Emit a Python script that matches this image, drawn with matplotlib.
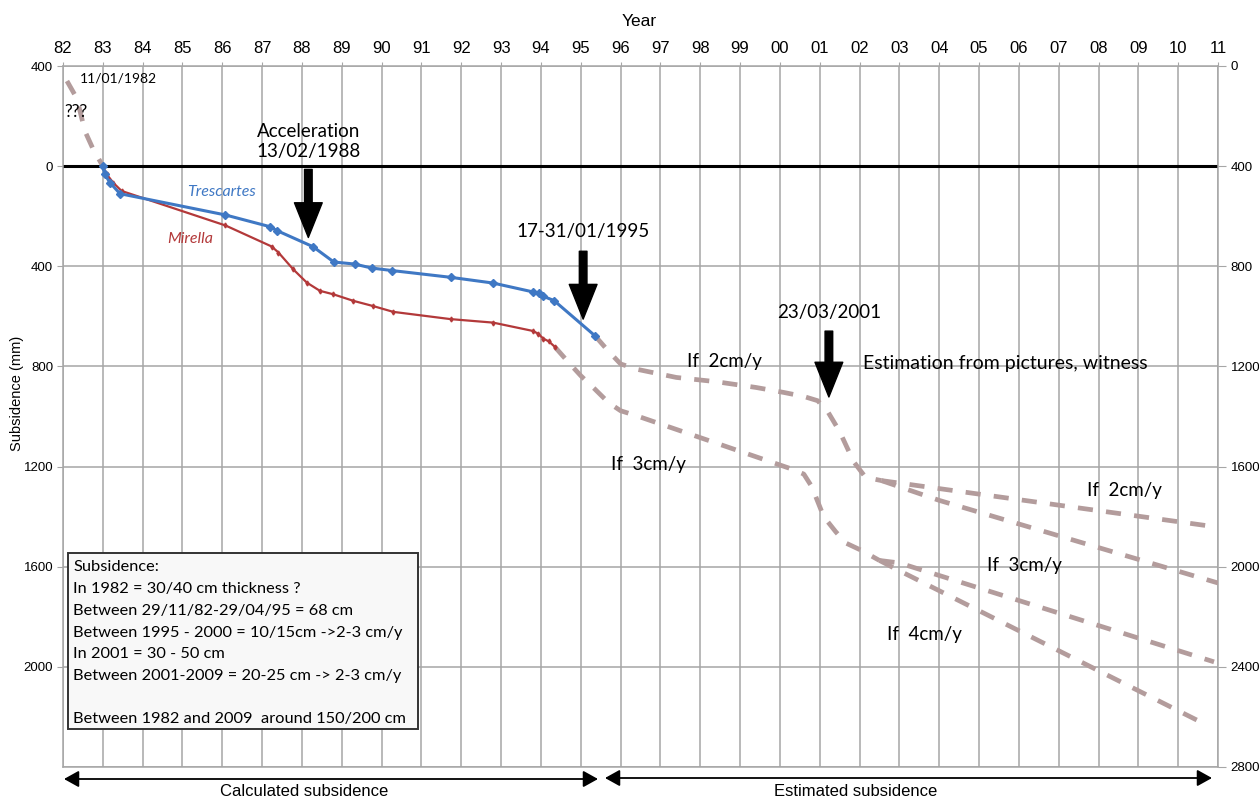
import matplotlib
matplotlib.use("Agg")
import matplotlib.pyplot as plt
from matplotlib.patches import Rectangle

# ---------- data ----------
year_ticks = list(range(82, 112))
year_labels = [f"{y % 100:02d}" for y in year_ticks]

left_ticks = [-400, 0, 400, 800, 1200, 1600, 2000]
right_ticks = [0, 400, 800, 1200, 1600, 2000, 2400, 2800]

tres_year = [83.0, 83.05, 83.18, 83.43, 86.08, 87.2, 87.38, 88.28, 88.8, 89.32,
             89.75, 90.26, 91.73, 92.8, 93.79, 93.96, 94.06, 94.33, 95.36]
tres_mm = [0, 33, 66, 110, 195, 242, 258, 322, 383, 391,
           407, 417, 444, 467, 502, 508, 520, 537, 678]

mir_year = [83.0, 83.1, 83.26, 83.47, 86.08, 87.24, 87.41, 87.78, 88.12, 88.45,
            88.79, 89.29, 89.79, 90.29, 91.73, 92.8, 93.79, 93.93, 94.06, 94.2, 94.35]
mir_mm = [0, 33, 66, 99, 237, 321, 345, 412, 465, 498,
          512, 538, 559, 582, 611, 625, 658, 669, 689, 700, 722]

start_year = [82.1, 82.35, 82.55, 82.75, 83.0]
start_mm = [-340, -270, -140, -70, 0]

upper_year = [95.36, 95.7, 96.0, 96.4, 97.4, 98.4, 99.4, 100.1, 100.6, 100.95,
              101.2, 101.5, 101.85, 102.15, 102.55]
upper_mm = [678, 740, 790, 811, 844, 861, 884, 904, 920, 937,
            980, 1060, 1180, 1243, 1256]

up2_year = [102.55, 110.9]
up2_mm = [1256, 1440]
up3_year = [102.55, 104.0, 111.0]
up3_mm = [1256, 1335, 1665]

lower_year = [94.35, 94.7, 95.0, 95.35, 95.7, 96.0, 96.4, 97.7, 99.0, 100.3,
              100.6, 100.8, 101.1, 101.4, 101.65, 102.05, 102.5]
lower_mm = [722, 785, 837, 890, 945, 977, 997, 1068, 1139, 1210,
            1230, 1280, 1400, 1460, 1505, 1535, 1575]

low3_year = [102.5, 103.0, 110.9]
low3_mm = [1575, 1585, 1980]
low4_year = [102.5, 102.9, 110.7]
low4_mm = [1575, 1608, 2231]

# event arrows: x (year), shaft top (mm), tip (mm), label, label height (mm)
arrow_x = [88.16, 95.06, 101.23]
arrow_top = [13, 340, 659]
arrow_tip = [285, 611, 922]
arrow_text = ["Acceleration\n13/02/1988", "17-31/01/1995", "23/03/2001"]
arrow_text_mm = [-98, 260, 584]

box_lines = ["Subsidence:",
             "In 1982 = 30/40 cm thickness ?",
             "Between 29/11/82-29/04/95 = 68 cm",
             "Between 1995 - 2000 = 10/15cm ->2-3 cm/y",
             "In 2001 = 30 - 50 cm",
             "Between 2001-2009 = 20-25 cm -> 2-3 cm/y",
             "",
             "Between 1982 and 2009  around 150/200 cm"]

# ---------- styling ----------
W, H = 1259, 799
arial = "Liberation Sans"
myriad = "Lato"
blue = "#3f78c4"
red = "#b3393a"
dash_col = "#b39c9c"
grid_col = "#a6a6a6"

fig = plt.figure(figsize=(W / 100, H / 100), dpi=100)
ax = fig.add_axes([63 / W, (H - 767) / H, (1218 - 63) / W, (767 - 66) / H])
ax.set_xlim(82, 111)
ax.set_ylim(2400, -400)

# grid
for yr in year_ticks:
    ax.axvline(yr, color=grid_col, lw=1.1, zorder=1)
for t in left_ticks + [2400]:
    ax.axhline(t, color=grid_col, lw=1.1, zorder=1)
ax.axhline(0, color="black", lw=2.2, zorder=2)

for s in ax.spines.values():
    s.set_color(grid_col)
    s.set_linewidth(1.1)

ax.xaxis.tick_top()
ax.set_xticks(year_ticks)
ax.set_xticklabels(year_labels, fontsize=12, family=arial)
ax.tick_params(axis="x", length=3, color=grid_col, pad=4)
ax.set_yticks(left_ticks)
ax.set_yticklabels([str(abs(t)) for t in left_ticks], fontsize=9.5, family=arial)
ax.tick_params(axis="y", length=4, color=grid_col, pad=3)

ax2 = ax.twinx()
ax2.set_ylim(2800, 0)
ax2.set_yticks(right_ticks)
ax2.set_yticklabels([str(t) for t in right_ticks], fontsize=9.5, family=arial)
ax2.tick_params(axis="y", length=6, color=grid_col, pad=3)
for s in ax2.spines.values():
    s.set_visible(False)

fig.text(639 / W, 1 - 22 / H, "Year", ha="center", va="center", fontsize=12.5, family=arial)
fig.text(17 / W, 1 - 393 / H, "Subsidence (mm)", rotation=90, ha="center", va="center",
         fontsize=10.5, family=arial)

# ---------- lines ----------
dash_kw = dict(color=dash_col, lw=3.4, linestyle=(0, (3.2, 2.8)), solid_capstyle="butt",
               dash_capstyle="butt", zorder=3)
for xs, ys in [(start_year, start_mm), (upper_year, upper_mm), (up2_year, up2_mm),
               (up3_year, up3_mm), (lower_year, lower_mm), (low3_year, low3_mm),
               (low4_year, low4_mm)]:
    ax.plot(xs, ys, **dash_kw)

ax.plot(mir_year, mir_mm, color=red, lw=1.6, marker="d", ms=2.5, zorder=4)
ax.plot(tres_year, tres_mm, color=blue, lw=2.2, marker="D", ms=4, zorder=5)

ax.text(85.97, 105, "Trescartes", color=blue, style="italic", fontsize=11.5, family=myriad,
        ha="center", va="center")
ax.text(85.19, 292, "Mirella", color=red, style="italic", fontsize=11.5, family=myriad,
        ha="center", va="center")
ax.text(82.43, -350, "11/01/1982", fontsize=10, family=myriad, ha="left", va="center")
ax.text(82.03, -218, "???", fontsize=12.5, family=myriad, ha="left", va="center")

# ---------- arrows ----------
for x, y0, y1, txt, ty in zip(arrow_x, arrow_top, arrow_tip, arrow_text, arrow_text_mm):
    ax.annotate("", xy=(x, y1), xytext=(x, y0),
                arrowprops=dict(arrowstyle="simple,head_length=25,head_width=20,tail_width=5.5",
                                mutation_scale=1, color="black", shrinkA=0, shrinkB=0),
                zorder=6)
    ax.text(x, ty, txt, ha="center", va="center", fontsize=13.5, family=myriad,
            linespacing=1.25, zorder=6)

ax.text(102.09, 787, "Estimation from pictures, witness", fontsize=14, family=myriad,
        ha="left", va="center")
ax.text(97.67, 779, "If  2cm/y", fontsize=13.5, family=myriad, ha="left", va="center")
ax.text(95.76, 1190, "If  3cm/y", fontsize=13.5, family=myriad, ha="left", va="center")
ax.text(107.71, 1297, "If  2cm/y", fontsize=13.5, family=myriad, ha="left", va="center")
ax.text(105.2, 1597, "If  3cm/y", fontsize=13.5, family=myriad, ha="left", va="center")
ax.text(102.69, 1872, "If  4cm/y", fontsize=13.5, family=myriad, ha="left", va="center")

# ---------- summary box ----------
ax.add_patch(Rectangle((82.13, 1545), 90.91 - 82.13, 2250 - 1545, facecolor="#f8f8f8",
                       edgecolor="#333333", lw=1.4, zorder=7))
for i, line in enumerate(box_lines):
    ax.text(82.26, 1603 + i * 86.6, line, fontsize=11.8, family=myriad, ha="left",
            va="center", zorder=8)

# ---------- bottom range arrows ----------
arr_kw = dict(arrowstyle="<|-|>,head_length=0.45,head_width=0.25", color="black", lw=1.3,
              shrinkA=0, shrinkB=0, mutation_scale=20)
ax.annotate("", xy=(64 / W, 20 / H), xytext=(598 / W, 20 / H), xycoords="figure fraction",
            textcoords="figure fraction", arrowprops=arr_kw, annotation_clip=False)
ax.annotate("", xy=(605 / W, 21 / H), xytext=(1212 / W, 21 / H), xycoords="figure fraction",
            textcoords="figure fraction", arrowprops=arr_kw, annotation_clip=False)
fig.text(304 / W, 8 / H, "Calculated subsidence", ha="center", va="center", fontsize=12,
         family=arial)
fig.text(856 / W, 8 / H, "Estimated subsidence", ha="center", va="center", fontsize=12,
         family=arial)

fig.savefig("out.png", dpi=100)
